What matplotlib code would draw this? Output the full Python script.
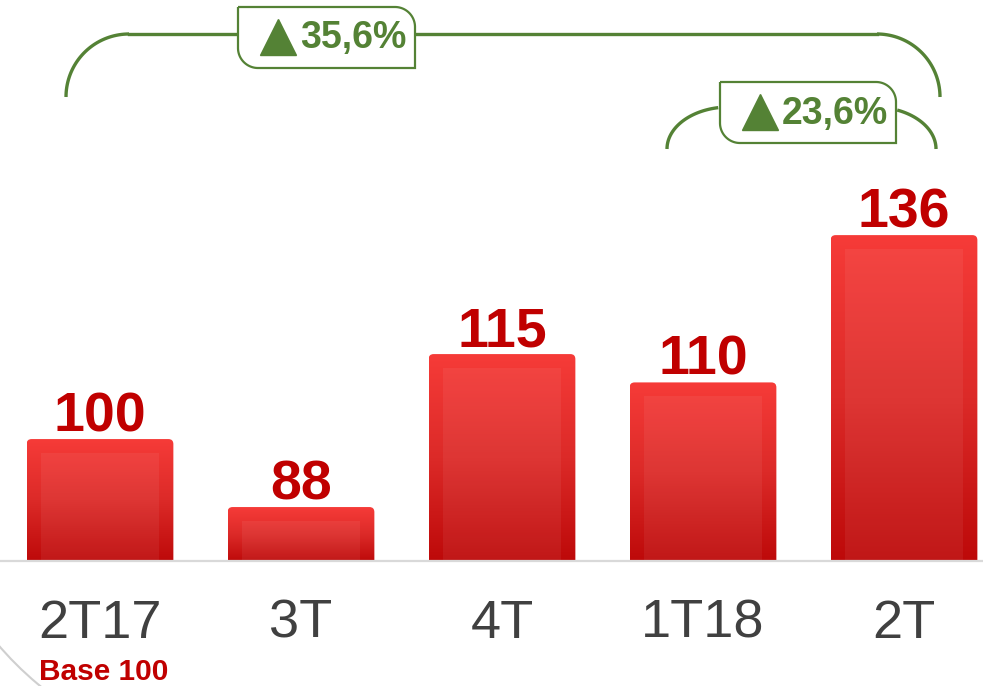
import numpy as np
import matplotlib
matplotlib.use("Agg")
import matplotlib.pyplot as plt
from matplotlib.colors import LinearSegmentedColormap
from matplotlib.patches import FancyBboxPatch, Rectangle, PathPatch, Arc
from matplotlib.path import Path

plt.rcParams['font.family'] = ['Liberation Sans', 'DejaVu Sans']

categories = ['2T17', '3T', '4T', '1T18', '2T']
values = [100, 88, 115, 110, 136]
base_note = 'Base 100'
growth_labels = ['35,6%', '23,6%']

RED_TXT = '#c00000'
GREEN = '#548235'
GRAY_TXT = '#404040'

W, H = 983, 686
fig = plt.figure(figsize=(W / 100, H / 100), dpi=100)

# main axes: bottom edge sits on the baseline
base_px = 562
ax = fig.add_axes([0, (H - base_px) / H, 1, base_px / H])
y0, ytop = 78.3, 177.5
x_lo, x_hi = -100 / 201, (W - 100) / 201
ax.set_xlim(x_lo, x_hi)
ax.set_ylim(y0, ytop)
ax.axis('off')

px_x = W / (x_hi - x_lo)          # pixels per x unit
px_y = base_px / (ytop - y0)      # pixels per y unit

cmap = LinearSegmentedColormap.from_list('bar', ['#bd0909', '#dc2a28', '#f63b38'])
grad = np.linspace(0, 1, 256).reshape(-1, 1)

width = 0.73
bars = ax.bar(range(len(values)), values, width=width, bottom=0, color='none')
for i, (rect, v) in enumerate(zip(bars, values)):
    x0 = rect.get_x()
    r = 5 / px_x
    patch = FancyBboxPatch((x0, y0 - 5), width, v - y0 + 5,
                           boxstyle=f'round,pad=0,rounding_size={r}',
                           mutation_aspect=px_x / px_y,
                           facecolor='none', edgecolor='none')
    ax.add_patch(patch)
    im = ax.imshow(grad, extent=[x0, x0 + width, y0, v], origin='lower',
                   cmap=cmap, aspect='auto', zorder=2)
    im.set_clip_path(patch)
    ix, iy = 14 / px_x, 14 / px_y
    ax.add_patch(Rectangle((x0 + ix, y0), width - 2 * ix, v - y0 - iy,
                           facecolor='white', alpha=0.06, edgecolor='none', zorder=3))
    ax.annotate(str(v), (i, v), xytext=(0, 5.5), textcoords='offset points',
                ha='center', va='baseline', fontsize=40, fontweight='bold',
                color=RED_TXT)
    ax.text(i, y0 - 62 / px_y, categories[i], ha='center', va='center',
            fontsize=39, color=GRAY_TXT)

ax.text(0.02, y0 - 110 / px_y, base_note, ha='center', va='center',
        fontsize=21.5, fontweight='bold', color=RED_TXT)
ax.axhline(y0 + 0.15, color='#d9d9d9', lw=1.6, zorder=5, clip_on=False)
ax.set_xlim(x_lo, x_hi)
ax.set_ylim(y0, ytop)

# overlay in pixel coords for the growth brackets
ov = fig.add_axes([0, 0, 1, 1])
ov.set_xlim(0, W)
ov.set_ylim(H, 0)
ov.axis('off')

ov.add_patch(Arc((250, 430), 662, 662, theta1=110, theta2=150,
                 color='#cfcfcf', lw=1.5))


def arc_pts(cx, cy, rx, ry, a0, a1, n=40):
    t = np.radians(np.linspace(a0, a1, n))
    return np.c_[cx + rx * np.cos(t), cy - ry * np.sin(t)]


def leaf_box(x0, y0_, x1, y1, r=20):
    pts = [(x0, y0_), (x1 - r, y0_)]
    pts += list(arc_pts(x1 - r, y0_ + r, r, r, 90, 0))
    pts += [(x1, y1), (x0 + r, y1)]
    pts += list(arc_pts(x0 + r, y1 - r, r, r, 270, 180))
    pts += [(x0, y0_)]
    return Path(pts)


def badge(x0, y0_, x1, y1, label):
    ov.add_patch(PathPatch(leaf_box(x0, y0_, x1, y1), facecolor='white',
                           edgecolor=GREEN, lw=1.6, zorder=4))
    ov.plot([x0 + 40], [(y0_ + y1) / 2 - 0.5], marker='^', markersize=26,
            color=GREEN, zorder=5)
    ov.text(x0 + 62, (y0_ + y1) / 2 + 1, label, ha='left', va='center',
            fontsize=27, fontweight='bold', color=GREEN, zorder=5)


lw = 2.4
# big bracket
left = arc_pts(129, 97, 63, 63, 180, 90)
ov.plot(left[:, 0], left[:, 1], color=GREEN, lw=lw, solid_capstyle='butt')
ov.plot([129, 238], [34, 34], color=GREEN, lw=lw)
ov.plot([415, 877], [34, 34], color=GREEN, lw=lw)
right = arc_pts(877, 97, 63, 63, 90, 0)
ov.plot(right[:, 0], right[:, 1], color=GREEN, lw=lw, solid_capstyle='butt')
badge(238, 7, 415, 68, growth_labels[0])

# small bracket
l2 = arc_pts(729, 149, 62, 42, 180, 100)
ov.plot(l2[:, 0], l2[:, 1], color=GREEN, lw=lw, solid_capstyle='butt')
r2 = arc_pts(874, 149, 62, 42, 68, 0)
ov.plot(r2[:, 0], r2[:, 1], color=GREEN, lw=lw, solid_capstyle='butt')
badge(720, 82, 896, 143, growth_labels[1])

fig.savefig('out.png', dpi=100)
